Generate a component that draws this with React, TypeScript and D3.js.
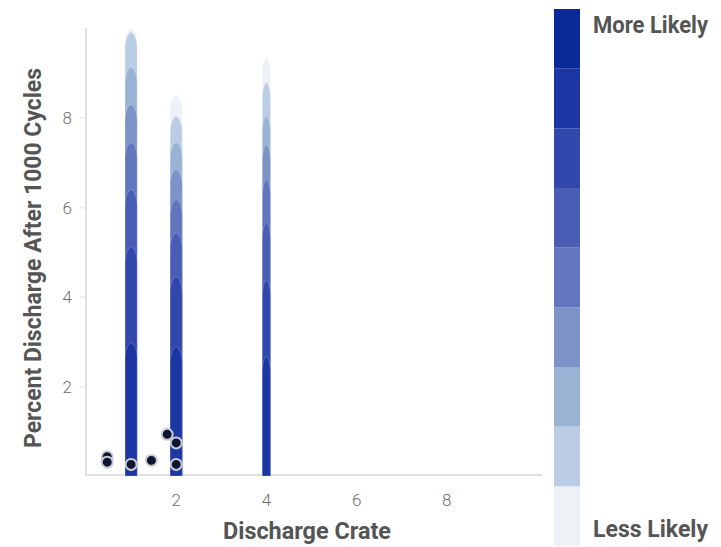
import React, { useRef, useEffect } from "react";
import * as d3 from "d3";

// discharge crate positions of the stacked density columns
const columnX = [1, 2, 4];
// top of each likelihood band, lightest band first (percent discharge)
const columnLevels = [
  [10.0, 9.9, 9.12, 8.29, 7.45, 6.4, 5.13, 2.99, 0.0],
  [8.5, 8.03, 7.45, 6.85, 6.18, 5.44, 4.46, 2.9, 0.0],
  [9.34, 8.78, 8.03, 7.4, 6.62, 5.66, 4.39, 2.68, 0.0],
];
const columnWidth = [12, 12, 8];

// observed points
const pointX = [0.47, 0.47, 1.0, 1.45, 1.8, 2.0, 2.0];
const pointY = [0.45, 0.33, 0.28, 0.37, 0.95, 0.76, 0.28];

const xTicks = [2, 4, 6, 8];
const yTicks = [2, 4, 6, 8];

// legend bands, least likely to most likely
const bandColors = [
  "#eef1f6",
  "#bacde5",
  "#98b3d4",
  "#7b93c6",
  "#6176bd",
  "#4a5db4",
  "#3147ab",
  "#1c37a3",
  "#0b2899",
];

const W = 721;
const H = 547;

export default function App() {
  const svgRef = useRef<SVGSVGElement>(null);

  useEffect(() => {
    if (!svgRef.current) return;
    const svg = d3.select(svgRef.current);
    svg.selectAll("*").remove();

    const x = d3.scaleLinear().domain([0, 10]).range([86, 537]);
    const y = d3.scaleLinear().domain([0, 10]).range([477, 28]);

    const title = (sel: d3.Selection<SVGTextElement, unknown, null, undefined>, len: number) =>
      sel.attr("font-family", "Roboto").attr("font-weight", 700)
        .attr("font-size", 23).attr("fill", "#555555")
        .attr("textLength", len).attr("lengthAdjust", "spacingAndGlyphs");

    // axis lines
    svg.append("line")
      .attr("x1", x(0)).attr("x2", x(0))
      .attr("y1", y(10)).attr("y2", y(0) - 1)
      .attr("stroke", "#e0e0e0").attr("stroke-width", 2);
    svg.append("line")
      .attr("x1", x(0)).attr("x2", x(10) + 5)
      .attr("y1", y(0) - 2).attr("y2", y(0) - 2)
      .attr("stroke", "#e0e0e0").attr("stroke-width", 2);

    // ticks
    svg.selectAll(".xt").data(xTicks).enter().append("text")
      .attr("x", d => x(d)).attr("y", 506)
      .attr("text-anchor", "middle")
      .attr("font-family", "Roboto").attr("font-weight", 300)
      .attr("font-size", 17).attr("fill", "#6f6f6f")
      .text(d => d);
    svg.selectAll(".yt").data(yTicks).enter().append("text")
      .attr("x", 72).attr("y", d => y(d) + 6)
      .attr("text-anchor", "end")
      .attr("font-family", "Roboto").attr("font-weight", 300)
      .attr("font-size", 17).attr("fill", "#6f6f6f")
      .text(d => d);
    svg.selectAll(".ytm").data(yTicks).enter().append("line")
      .attr("x1", 80).attr("x2", 85)
      .attr("y1", d => y(d)).attr("y2", d => y(d))
      .attr("stroke", "#eeeeee").attr("stroke-width", 2);

    // density columns
    columnX.forEach((cx, ci) => {
      const w = columnWidth[ci];
      const g = svg.append("g");
      columnLevels[ci].forEach((top, li) => {
        if (top <= 0) return;
        const x0 = x(cx) - w / 2;
        const x1 = x(cx) + w / 2;
        const yb = y(0) - 1;
        const yt = y(top);
        const cap = Math.min(16, yb - yt);
        const p = d3.path();
        p.moveTo(x0, yb);
        p.lineTo(x0, yt + cap);
        p.bezierCurveTo(x0, yt + cap * 0.3, x(cx) - w * 0.15, yt, x(cx), yt);
        p.bezierCurveTo(x(cx) + w * 0.15, yt, x1, yt + cap * 0.3, x1, yt + cap);
        p.lineTo(x1, yb);
        p.closePath();
        g.append("path")
          .attr("d", p.toString())
          .attr("fill", bandColors[li])
          .attr("stroke", li === 0 ? "none" : "#ffffff")
          .attr("stroke-opacity", 0.25)
          .attr("stroke-width", 0.8);
      });
    });

    // points
    svg.selectAll(".pt").data(pointX.map((px, i) => [px, pointY[i]])).enter()
      .append("circle")
      .attr("cx", d => x(d[0])).attr("cy", d => y(d[1]))
      .attr("r", 5.5)
      .attr("fill", "#0f1530")
      .attr("stroke", "#c8ccd4").attr("stroke-width", 2);

    // axis titles
    title(svg.append("text")
      .attr("x", 307).attr("y", 539)
      .attr("text-anchor", "middle")
      .text("Discharge Crate"), 168);
    title(svg.append("text")
      .attr("transform", "translate(41,258) rotate(-90)")
      .attr("text-anchor", "middle")
      .text("Percent Discharge After 1000 Cycles"), 380);

    // legend
    const ly = d3.scaleBand<number>()
      .domain(d3.range(bandColors.length))
      .range([546, 9]);
    svg.selectAll(".lb").data(bandColors).enter().append("rect")
      .attr("x", 554).attr("width", 26)
      .attr("y", (_, i) => ly(i) as number)
      .attr("height", ly.bandwidth())
      .attr("fill", d => d);
    title(svg.append("text")
      .attr("x", 593).attr("y", 33)
      .text("More Likely"), 115);
    title(svg.append("text")
      .attr("x", 593).attr("y", 537)
      .text("Less Likely"), 115);
  }, []);

  return (
    <div style={{ position: "fixed", left: 0, top: 0, background: "#fff" }}>
      <svg ref={svgRef} width={W} height={H} />
    </div>
  );
}
